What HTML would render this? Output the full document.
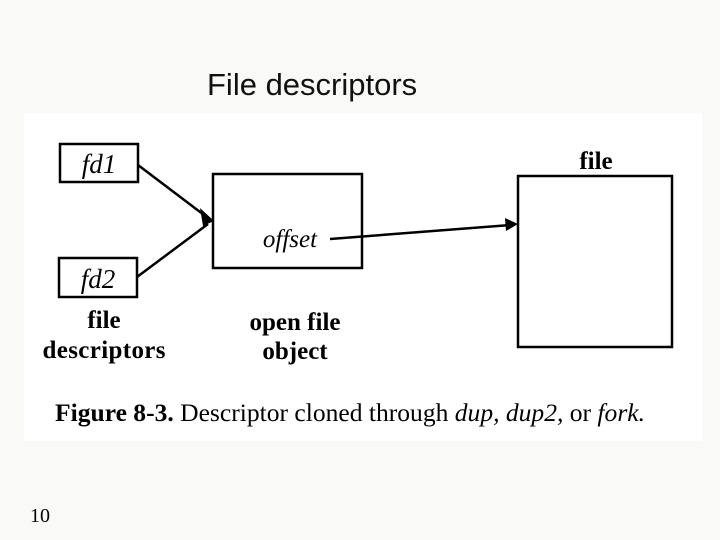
<!DOCTYPE html>
<html><head><style>
body{margin:0;width:720px;height:540px;background:#f9f9f7;position:relative;overflow:hidden}
.t{position:absolute;white-space:nowrap}
</style></head><body>
<div class="t" style="left:207px;top:67px;font:31px 'Liberation Sans',sans-serif;color:#111">File descriptors</div>
<svg style="position:absolute;left:0;top:0" width="720" height="540">
<rect x="24" y="113" width="678" height="328" fill="#fff"/>
<g fill="none" stroke="#000" stroke-width="2.5">
<rect x="60" y="144" width="78" height="38"/>
<rect x="59" y="258" width="78" height="39"/>
<rect x="213" y="174" width="149" height="94"/>
<rect x="518" y="176" width="154" height="171"/>
<line x1="138" y1="165" x2="208" y2="218"/>
<line x1="137" y1="277" x2="208" y2="224"/>
<line x1="330" y1="239" x2="510" y2="225"/>
</g>
<polygon points="214,221 200,208 203,226" fill="#000"/>
<polygon points="518,224 505,218 506,231" fill="#000"/>
<g font-family="Liberation Serif,serif" fill="#000">
<text x="99" y="173" font-size="27" font-style="italic" text-anchor="middle">fd1</text>
<text x="98" y="288" font-size="27" font-style="italic" text-anchor="middle">fd2</text>
<text x="290" y="247" font-size="25" font-style="italic" text-anchor="middle">offset</text>
<text x="596" y="169" font-size="25" font-weight="bold" text-anchor="middle">file</text>
<text x="104" y="328" font-size="25" font-weight="bold" text-anchor="middle">file</text>
<text x="104" y="358" font-size="25" font-weight="bold" text-anchor="middle" textLength="123">descriptors</text>
<text x="295" y="330" font-size="25" font-weight="bold" text-anchor="middle">open file</text>
<text x="295" y="359" font-size="25" font-weight="bold" text-anchor="middle">object</text>
<text x="55" y="421" font-size="25" textLength="590" lengthAdjust="spacingAndGlyphs"><tspan font-weight="bold">Figure 8-3.</tspan> Descriptor cloned through <tspan font-style="italic">dup, dup2,</tspan> or <tspan font-style="italic">fork.</tspan></text>
<text x="30" y="522" font-size="20">10</text>
</g>
</svg>
</body></html>
